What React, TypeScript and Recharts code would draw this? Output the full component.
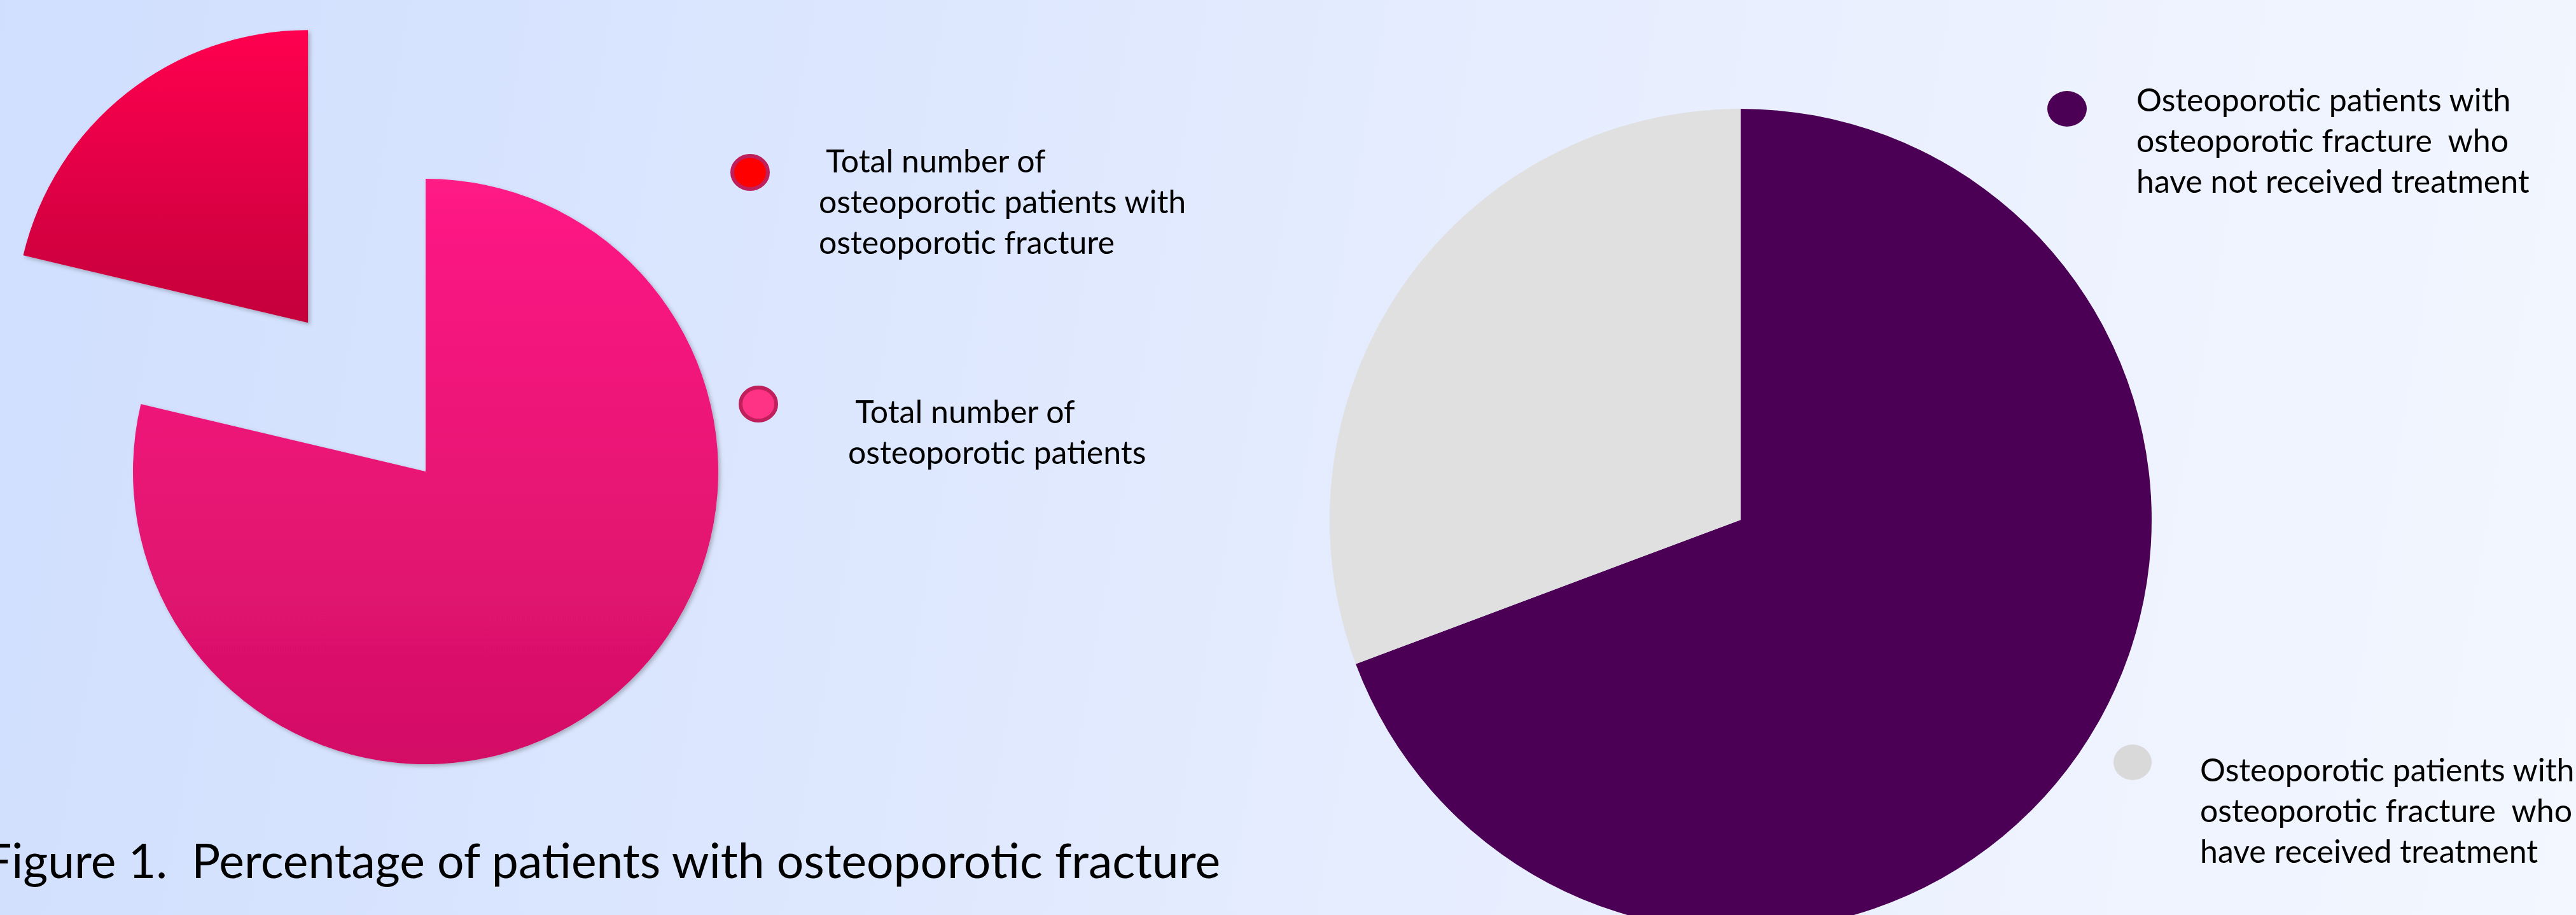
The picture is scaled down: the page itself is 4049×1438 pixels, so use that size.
import { PieChart, Pie, Cell } from 'recharts';

// left pie: share of fractured patients among all osteoporotic patients
const leftNames = [
  'Total number of osteoporotic patients with osteoporotic fracture',
  'Total number of osteoporotic patients',
];
const leftValues = [21.3, 78.7];
const leftLegendLines = [
  [' Total number of', 'osteoporotic patients with', 'osteoporotic fracture'],
  [' Total number of', 'osteoporotic patients'],
];

// right pie: treated vs untreated fracture patients
const rightNames = [
  'Osteoporotic patients with osteoporotic fracture who have not received treatment',
  'Osteoporotic patients with osteoporotic fracture who have received treatment',
];
const rightValues = [69.3, 30.7];
const rightLegendLines = [
  ['Osteoporotic patients with', 'osteoporotic fracture  who', 'have not received treatment'],
  ['Osteoporotic patients with', 'osteoporotic fracture  who', 'have received treatment'],
];

const captionText = 'Figure 1.  Percentage of patients with osteoporotic fracture';

const W = 4049;
const H = 1438;
const FONT = "Lato, 'Liberation Sans', sans-serif";

const leftData = leftNames.map((name, i) => ({ name, value: leftValues[i] }));
const rightData = rightNames.map((name, i) => ({ name, value: rightValues[i] }));

const leftFills = ['url(#gradRed)', 'url(#gradPink)'];
const rightFills = ['#4b0055', '#e0e0e0'];

// left pie geometry
const LCX = 669;
const LCY = 741;
const LR = 460;
const EXPLODE = 298;

// the first slice is pulled out along its middle angle
const leftTotal = leftValues.reduce((a, b) => a + b, 0);
const midAngle = ((90 + (leftValues[0] / leftTotal) * 180) * Math.PI) / 180;
const exCx = LCX + EXPLODE * Math.cos(midAngle);
const exCy = LCY - EXPLODE * Math.sin(midAngle);

const legendItems = [
  { x: 1179, y: 271, rx: 28, ry: 26, fill: '#ff0000', stroke: '#bf1f5a', textX: 1287, base: 271, lines: leftLegendLines[0] },
  { x: 1192, y: 635, rx: 28, ry: 26, fill: '#ff3385', stroke: '#bf1f5a', textX: 1333, base: 665, lines: leftLegendLines[1] },
  { x: 3249, y: 171, rx: 31, ry: 28, fill: rightFills[0], stroke: 'none', textX: 3358, base: 175, lines: rightLegendLines[0] },
  { x: 3352, y: 1198, rx: 30, ry: 28, fill: '#d9d9d9', stroke: 'none', textX: 3458, base: 1228, lines: rightLegendLines[1] },
];

export default function App() {
  return (
    <div
      style={{
        position: 'absolute',
        left: 0,
        top: 0,
        width: W,
        height: H,
        overflow: 'hidden',
        background: 'linear-gradient(100deg, #d0dffe 0%, #dde7fe 35%, #e9effe 65%, #f3f7ff 100%)',
      }}
    >
      <div style={{ position: 'absolute', left: 0, top: 0 }}>
        <PieChart width={W} height={H} margin={{ top: 0, right: 0, bottom: 0, left: 0 }}>
          <defs>
            <linearGradient id='gradRed' x1='0' y1='0' x2='0' y2='1'>
              <stop offset='0%' stopColor='#ff004f' />
              <stop offset='100%' stopColor='#c4003b' />
            </linearGradient>
            <linearGradient id='gradPink' x1='0' y1='0' x2='0' y2='1'>
              <stop offset='0%' stopColor='#ff1a85' />
              <stop offset='100%' stopColor='#d30f66' />
            </linearGradient>
            <filter id='shade' x='-10%' y='-10%' width='120%' height='120%'>
              <feDropShadow dx='3' dy='3' stdDeviation='3' floodColor='#000' floodOpacity='0.25' />
            </filter>
          </defs>
          <Pie
            data={leftData}
            dataKey='value'
            nameKey='name'
            cx={LCX}
            cy={LCY}
            outerRadius={LR}
            startAngle={90}
            endAngle={450}
            stroke='none'
            isAnimationActive={false}
          >
            {leftData.map((entry, index) => (
              <Cell
                key={`l-${index}`}
                fill={index === 0 ? 'none' : leftFills[index]}
                filter={index === 0 ? undefined : 'url(#shade)'}
              />
            ))}
          </Pie>
          <Pie
            data={leftData}
            dataKey='value'
            nameKey='name'
            cx={exCx}
            cy={exCy}
            outerRadius={LR}
            startAngle={90}
            endAngle={450}
            stroke='none'
            isAnimationActive={false}
          >
            {leftData.map((entry, index) => (
              <Cell
                key={`e-${index}`}
                fill={index === 0 ? leftFills[index] : 'none'}
                filter={index === 0 ? 'url(#shade)' : undefined}
              />
            ))}
          </Pie>
          <Pie
            data={rightData}
            dataKey='value'
            nameKey='name'
            cx={2736}
            cy={817}
            outerRadius={646}
            startAngle={90}
            endAngle={-270}
            stroke='none'
            isAnimationActive={false}
          >
            {rightData.map((entry, index) => (
              <Cell key={`r-${index}`} fill={rightFills[index]} />
            ))}
          </Pie>
        </PieChart>
      </div>
      <svg
        width={W}
        height={H}
        style={{ position: 'absolute', left: 0, top: 0 }}
        fontFamily={FONT}
      >
        {legendItems.map((item, i) => (
          <g key={`leg-${i}`}>
            <ellipse
              cx={item.x}
              cy={item.y}
              rx={item.rx}
              ry={item.ry}
              fill={item.fill}
              stroke={item.stroke}
              strokeWidth={6}
            />
            <text x={item.textX} y={item.base} fontSize={50} fill='#000' style={{ whiteSpace: 'pre' }}>
              {item.lines.map((line, j) => (
                <tspan key={j} x={item.textX} y={item.base + j * 64}>
                  {line}
                </tspan>
              ))}
            </text>
          </g>
        ))}
        <text x={-24} y={1380} fontSize={75} fill='#000' style={{ whiteSpace: 'pre' }}>
          {captionText}
        </text>
      </svg>
    </div>
  );
}
